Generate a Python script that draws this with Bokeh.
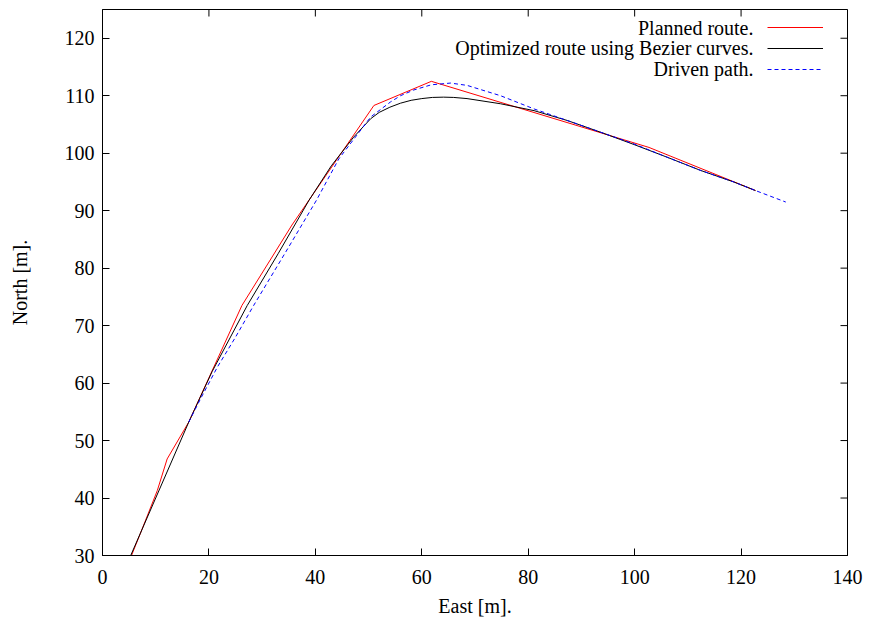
from bokeh.plotting import figure
from bokeh.models import Range1d, Legend, LegendItem, Label, FixedTicker
from bokeh.embed import file_html
from bokeh.resources import INLINE

# Planned route (waypoints)
planned_x = [5.45, 7.1, 10.3, 12.15, 16.2, 26.2, 35.6, 51.0, 61.8, 102.7, 122.7]
planned_y = [30.0, 33.8, 41.3, 46.8, 53.2, 73.5, 87.5, 108.3, 112.5, 101.0, 93.5]

# Optimized route using Bezier curves
bezier_x = [5.3, 16.2, 20.6, 27.2, 33.0, 38.8, 43.0, 47.2, 50.4, 52.0, 54.0,
            56.0, 58.0, 60.0, 62.0, 64.1, 66.0, 68.5, 74.8, 81.1, 87.3, 93.6, 99.9, 106.1,
            112.4, 118.6, 122.7]
bezier_y = [30.0, 53.2, 62.0, 73.5, 82.5, 91.8, 97.8, 102.8, 106.0, 107.1, 108.0,
            108.7, 109.2, 109.5, 109.7, 109.75, 109.7, 109.5, 108.6, 107.4, 105.7, 103.65, 101.5,
            99.3, 97.0, 95.0, 93.5]

# Driven path
driven_x = [16.2, 18.5, 21.6, 25.0, 28.4, 34.3, 40.2, 44.4, 50.4, 54.1, 56.0, 58.5,
            61.8, 65.4, 68.5, 74.8, 81.1, 87.3, 93.6, 99.9, 106.1, 112.4, 118.6, 122.7, 128.4]
driven_y = [53.2, 57.4, 62.8, 68.0, 73.5, 82.6, 91.8, 99.0, 106.3, 108.9, 110.0, 111.0,
            111.9, 112.2, 111.8, 110.0, 107.7, 105.7, 103.65, 101.6, 99.3, 97.0, 95.0, 93.5, 91.5]

series_labels = ["Planned route.", "Optimized route using Bezier curves.", "Driven path."]
x_ticks = [0, 20, 40, 60, 80, 100, 120, 140]
y_ticks = [30, 40, 50, 60, 70, 80, 90, 100, 110, 120]
x_min, x_max = 0, 140
y_min, y_max = 30, 125

FONT = "Liberation Serif"
FS = "20px"

p = figure(width=869, height=621, output_backend="svg", toolbar_location=None,
           x_range=Range1d(x_min, x_max), y_range=Range1d(y_min, y_max),
           min_border_left=102, min_border_right=22, min_border_top=9, min_border_bottom=66)
p.grid.visible = False
p.outline_line_color = "black"
p.outline_line_width = 1
p.background_fill_color = "white"
p.border_fill_color = "white"

r1 = p.line(planned_x, planned_y, line_color="#ff0000", line_width=1)
r2 = p.line(bezier_x, bezier_y, line_color="#000000", line_width=1)
r3 = p.line(driven_x, driven_y, line_color="#0000ff", line_width=1, line_dash="4 3")

# mirrored inward ticks on the top and right edges (clipped to the frame)
p.scatter(x_ticks, [y_max] * len(x_ticks), marker="dash", size=14, angle=1.5707963,
          line_color="black", line_width=1)
p.scatter([x_max] * len(y_ticks), y_ticks, marker="dash", size=14,
          line_color="black", line_width=1)

for ax in (p.xaxis[0], p.yaxis[0]):
    ax.axis_line_color = "black"
    ax.major_tick_line_color = "black"
    ax.major_tick_in = 7
    ax.major_tick_out = 0
    ax.minor_tick_line_color = None
    ax.major_label_text_font = FONT
    ax.major_label_text_font_size = FS
    ax.major_label_text_color = "black"
    ax.axis_label_text_font = FONT
    ax.axis_label_text_font_size = FS
    ax.axis_label_text_font_style = "normal"
    ax.axis_label_text_color = "black"

p.xaxis.ticker = FixedTicker(ticks=x_ticks)
p.yaxis.ticker = FixedTicker(ticks=y_ticks)
p.xaxis.major_label_standoff = 14
p.yaxis.major_label_standoff = 8
p.xaxis.axis_label = "East [m]."
p.yaxis.axis_label = "North [m]."
p.xaxis.axis_label_standoff = 8
p.yaxis.axis_label_standoff = 31

legend = Legend(items=[LegendItem(label=" ", renderers=[r]) for r in (r1, r2, r3)],
                location=(665, 476.5), glyph_width=56, glyph_height=20, label_width=0,
                label_standoff=0, label_text_font_size="1px", spacing=1, padding=0, margin=0,
                border_line_color=None, background_fill_alpha=0)
p.add_layout(legend)

for i, txt in enumerate(series_labels):
    p.add_layout(Label(x=651, y=528 - 20.5 * i, x_units="screen", y_units="screen",
                       text=txt, text_align="right", text_baseline="middle",
                       text_font=FONT, text_font_size=FS, text_color="black"))

open("out.html", "w").write(file_html(p, INLINE))
